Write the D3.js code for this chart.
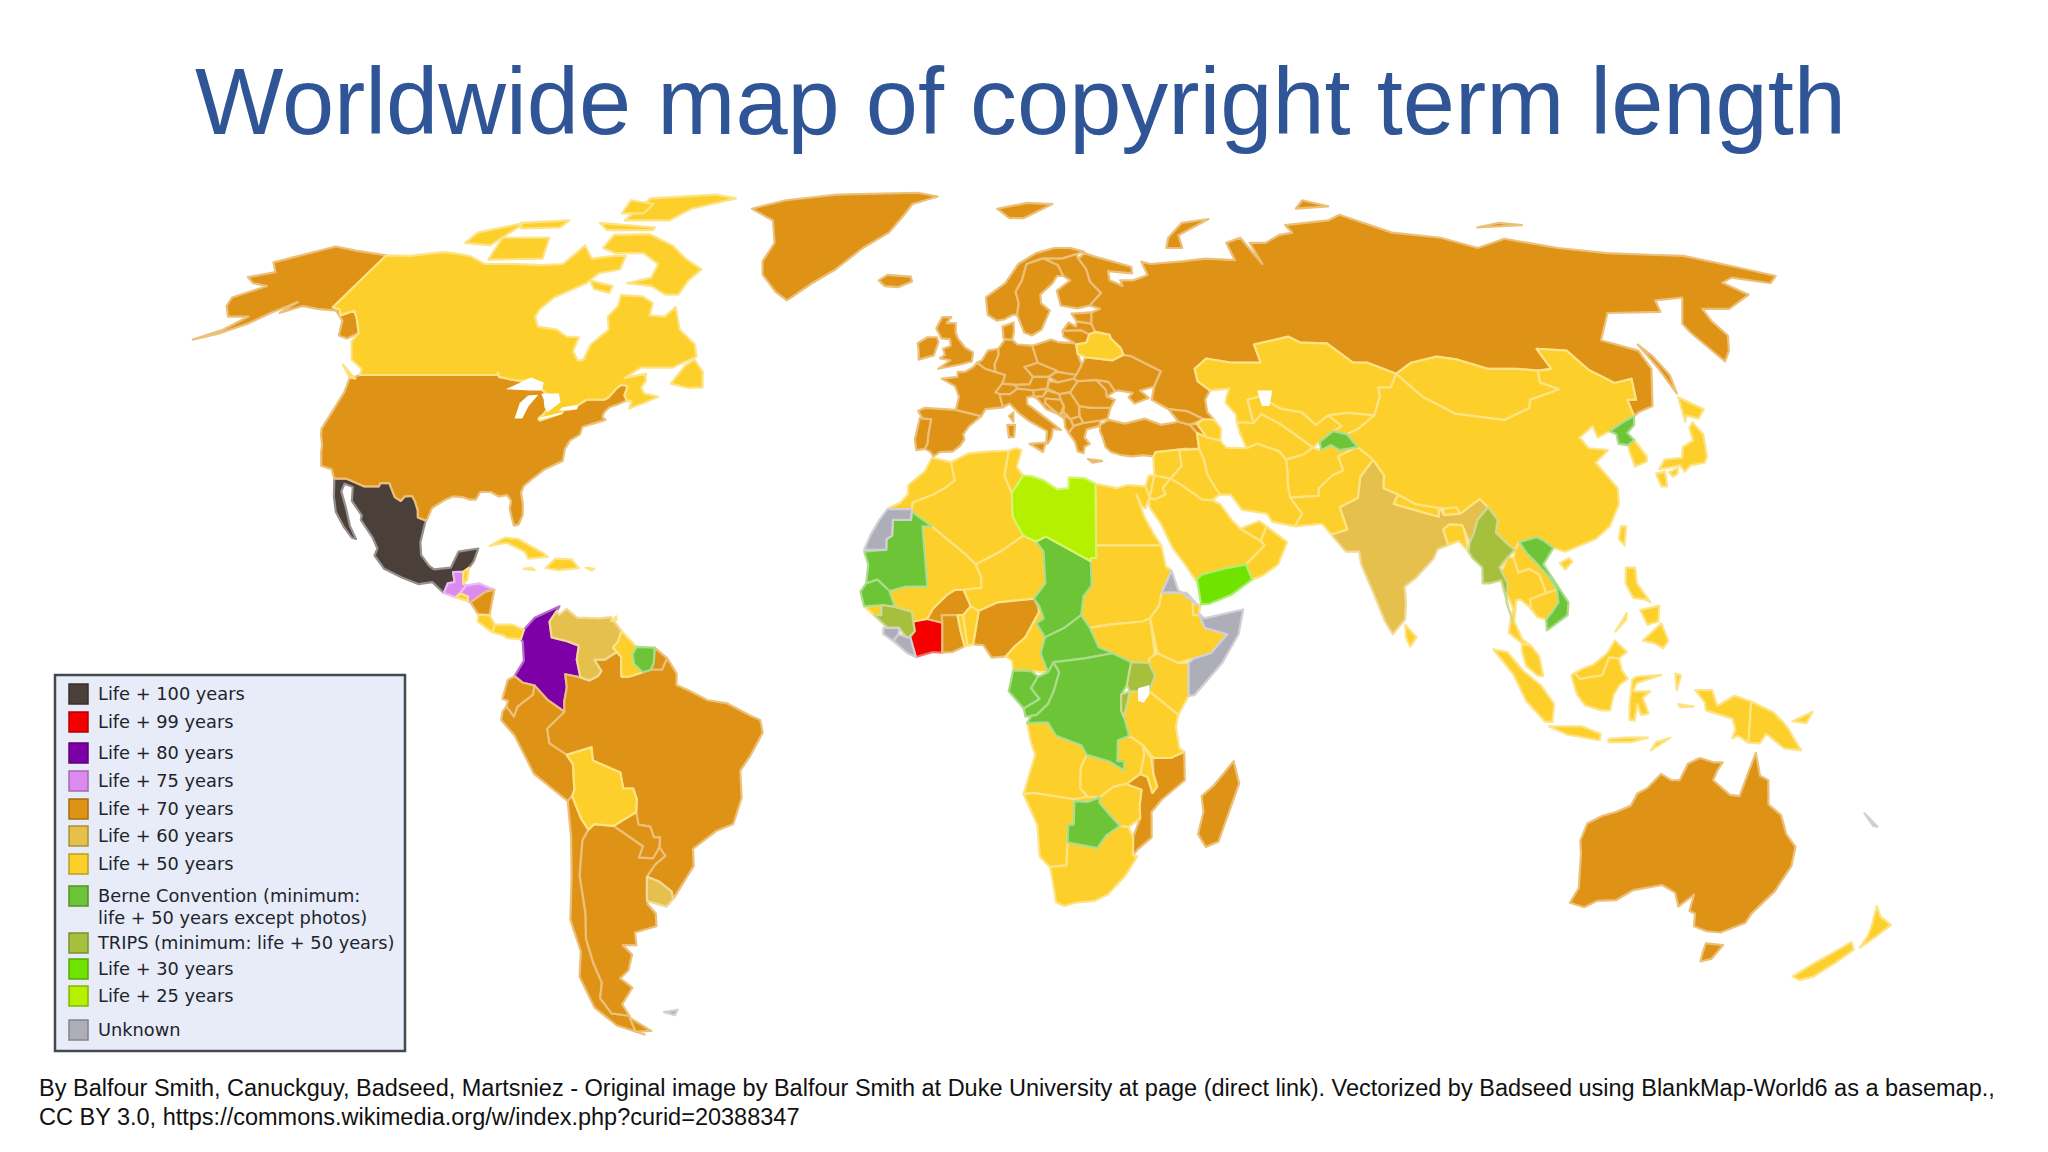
<!DOCTYPE html>
<html>
<head>
<meta charset="utf-8">
<script src="https://cdn.jsdelivr.net/npm/d3@7"></script>
<style>
  html, body { margin: 0; padding: 0; background: #fff; }
  svg { display: block; }
</style>
</head>
<body>
<div id="container"></div>
<script>
// legend
const legendLabels = [["Life + 100 years"], ["Life + 99 years"], ["Life + 80 years"], ["Life + 75 years"], ["Life + 70 years"], ["Life + 60 years"], ["Life + 50 years"],
  ["Berne Convention (minimum:", "life + 50 years except photos)"], ["TRIPS (minimum: life + 50 years)"], ["Life + 30 years"], ["Life + 25 years"], ["Unknown"]];
const legendColors = ["#4b3f3a", "#f40000", "#7d00a6", "#dc8aee", "#de9216", "#e6c04c", "#fdcf2b", "#6cc436", "#a6bf3c", "#70e400", "#b4f000", "#aeaeb8"];

const titleText = "Worldwide map of copyright term length";
const creditLines = ["By Balfour Smith, Canuckguy, Badseed, Martsniez - Original image by Balfour Smith at Duke University at page (direct link). Vectorized by Badseed using BlankMap-World6 as a basemap.,",
  "CC BY 3.0, https://commons.wikimedia.org/w/index.php?curid=20388347"];

// Robinson table
const tableLat = [0,5,10,15,20,25,30,35,40,45,50,55,60,65,70,75,80,85,90];
const tablePlen = [1,.9986,.9954,.99,.9822,.973,.96,.9427,.9216,.8962,.8679,.835,.7986,.7597,.7186,.6732,.6213,.5722,.5322];
const tablePdfe = [0,.062,.124,.186,.248,.31,.372,.434,.4958,.5571,.6176,.6769,.7346,.7903,.8435,.8936,.9394,.9761,1];

// outlines as lon,lat,lon,lat...  one entry per land mass
const life100 = [
  ["Mexico", [-117.1,32.5,-114.8,32.5,-111,31.3,-108.2,31.3,-108.2,31.8,-106.5,31.8,-104.5,29.6,-103.2,29,-102.7,29.7,-101.4,29.8,-100.5,28.9,-99.5,27.5,-99.1,26.4,-97.5,25.9,-97.7,22.5,-97.2,20.5,-95.5,18.8,-94.5,18.2,-91.5,18.5,-90.5,21,-87,21.5,-87.5,19.5,-88.2,18.5,-89.1,17.9,-91,17.8,-90.5,16.2,-91.7,16,-92.2,14.5,-94.5,16.2,-97,15.9,-100,16.9,-103.5,18.3,-105.6,20.4,-105.3,21.5,-106.5,23.2,-109.4,26,-109.5,26.7,-112.2,29,-113,31.2,-114.8,31.7,-114.8,30.5,-112.8,27.8,-111,25,-109.5,23,-110.3,23.2,-112.2,25,-114.5,27.3,-115.8,29.7]]
];
const life99 = [
  ["Cote d'Ivoire", [-7.5,4.4,-8.5,7.5,-7.7,8.5,-8,10,-5.5,10.4,-2.8,9.8,-2.8,5.1,-4.5,5.2]]
];
const life80 = [
  ["Colombia", [-77.4,8.7,-75.6,10.6,-74.2,11.2,-71.3,12.4,-71.7,11.7,-72.9,10,-72.4,7.5,-70,7,-67.5,6.2,-67.8,4,-67.1,1.2,-69.8,1.7,-69.5,-0.4,-70,-2.6,-70,-4.2,-72.9,-2.4,-75.2,-0.1,-77.4,0.4,-78.8,1.4,-77.2,3.8,-77.5,6.8,-77.9,7.2]]
];
const life75 = [
  ["Guatemala", [-92.2,14.5,-91.7,16,-90.5,16.2,-91,17.8,-89.2,17.8,-88.9,15.9,-88.3,15.7,-89.2,14.6,-90,13.8]],
  ["Honduras", [-89.2,14.6,-88.3,15.7,-86,16,-83.2,15,-84.7,14.7,-87.3,13,-87.8,13.2,-87.8,13.9,-89.2,14.4]]
];
const life70 = [
  ["USA", [-124.7,48.4,-123,49,-95.2,49,-95.2,49.4,-94.6,48.7,-92,48.3,-89.6,48,-88.4,48.3,-84.9,46.9,-84.5,46.5,-83.5,46,-83.6,45.8,-82.5,45.3,-82.1,43.6,-82.5,42.6,-83.1,42.1,-82.7,41.7,-78.9,42.9,-79,43.3,-76.8,43.6,-76.3,44.2,-75,45,-71.5,45,-70.8,45.4,-70,46.7,-69.2,47.4,-68.3,47.3,-67.8,47.1,-67.8,45.7,-67,44.9,-68.5,44.3,-70,43.8,-70.7,43,-70.8,42.3,-70,41.8,-71.4,41.4,-74,40.7,-74,39.5,-75.5,38.5,-75.9,37.2,-75.5,35.3,-77,34.6,-78.5,33.9,-80,32.6,-81.3,31.3,-81.4,30.3,-80.5,28.5,-80,26.8,-80.3,25.3,-81.1,25.1,-81.8,26.2,-82.7,27.8,-82.8,29,-83.8,29.9,-85.3,29.7,-87,30.4,-89,30.4,-89.4,29.2,-90.5,29.2,-92,29.6,-93.8,29.7,-95,29.2,-97,27.9,-97.3,26,-97.5,25.9,-99.1,26.4,-99.5,27.5,-100.5,28.9,-101.4,29.8,-102.7,29.7,-103.2,29,-104.5,29.6,-106.5,31.8,-108.2,31.8,-108.2,31.3,-111,31.3,-114.8,32.5,-117.1,32.5,-118.4,34,-120.6,34.5,-121.9,36.6,-122.5,37.8,-123.8,39.5,-124.3,40.4,-124.1,43,-124,46.3]],
  ["Alaska", [-141,69.6,-141,60.3,-139,59.9,-137.5,58.9,-135.5,59.7,-133.5,58.5,-130,55.9,-131.5,55,-133.8,55.5,-136,58,-139.5,59.7,-144,60,-148,60.5,-151.5,59.3,-150,61.2,-153.5,59.3,-156,57.5,-160,55.8,-164,54.8,-160,56.4,-157.5,58.7,-162,58.7,-165,60.5,-166,62,-161,64,-165,64.5,-168,65.6,-163,66.5,-166.5,68.3,-156.5,71.3,-150,70.5]],
  ["Greenland", [-58,79,-50,81,-36,82.5,-12,83,-6,82,-13,80,-15,77.5,-18,74,-24,71,-30,67,-35,64.5,-40,61.5,-43,63,-47,66,-48,68.5,-46.5,72,-50,76.5]],
  ["Iceland", [-19.5,65,-17.5,66,-12,65.7,-11.7,64.8,-15,63.8,-18,64]],
  ["Svalbard", [11,79,20,80.3,27,80,18,77,14,77]],
  ["UK", [-5.5,50,-1,50.7,1.4,51.2,1.7,52.7,0,53.5,-1.5,55,-2,56,-2,57.6,-4,57.6,-3,58.6,-5,58.6,-6.2,56.7,-5,55,-3.2,54.9,-3,53.8,-4.6,53.3,-4.2,52.3,-5.2,51.7,-3,51.4]],
  ["Ireland", [-10,54.2,-8,55.2,-6,55.2,-5.6,54.4,-6.2,53,-6.5,52.2,-9.6,51.5,-9.7,53]],
  ["Spain", [-9.2,43.2,-8,43.7,-1.8,43.4,3.2,42.4,0.8,40.8,-0.3,39.5,0,38.7,-0.7,37.7,-2,36.8,-4.5,36.7,-5.6,36,-6.4,36.8,-7.4,37.2,-7,38,-7,39.7,-6.6,41.9,-8.2,42]],
  ["Portugal", [-8.8,42.1,-8.2,42,-6.6,41.9,-7,39.7,-7,38,-7.4,37.2,-9,37,-9.5,38.7]],
  ["France", [-1.8,43.4,3.2,42.4,4,43.5,7.5,43.8,7,45.5,7,45.9,6.1,46.2,7.5,47.6,8.2,49,6.2,49.5,4.2,50,2.5,51,1.6,50.2,0,49.5,-1.5,49.5,-1.5,48.7,-4.7,48.4,-2,47.2,-1.2,45.5]],
  ["Benelux", [2.5,51,4.2,50,6.2,49.5,6.1,50.7,7,52.3,7,53.3,4.8,53,3.5,51.4]],
  ["Germany", [7,53.3,7,52.3,6.1,50.7,6.2,49.5,8.2,49,7.5,47.6,10,47.4,13,47.5,13.8,48.7,12.2,50.3,15,51,14.2,53.8,11,54,10,54.8,8.6,54.9]],
  ["Denmark", [8.2,55,8.1,57,10.6,57.7,10.5,56,10,54.8,8.6,54.9]],
  ["Poland", [14.2,53.8,15,51,18.8,49.5,22.6,49,24,50.6,23.5,52.5,23.4,54.2,19.7,54.4,18.3,54.8]],
  ["Czechia", [12.2,50.3,15,51,18.8,49.7,17,48.7,13.8,48.7]],
  ["Slovakia", [17,48.7,18.8,49.5,22.6,49,22,48.4,18.8,47.8]],
  ["Austria", [10,47.4,13,47.5,13.8,48.7,17,48.7,16.5,46.8,13.7,46.5,10.5,46.8]],
  ["Switzerland", [6.1,46.2,7.5,47.6,10,47.4,10.5,46.8,9,45.9,7,45.9]],
  ["Italy", [7,45.5,7,45.9,9,45.9,10.5,46.8,13.7,46.5,13.7,45.6,12.3,45.4,12.3,44.3,13.6,43.5,16,41.9,18.5,40.2,17,40.4,16.7,39,16,38,15.7,38.2,15.8,40,12.3,41.7,10.5,42.9,8.8,44.4,7.5,43.8]],
  ["Sicily", [12.5,38,15.6,38.2,15.1,36.7]],
  ["Sardinia", [8.2,41,9.7,41,9.5,39.1,8.5,39]],
  ["Corsica", [8.6,42.4,9.5,43,9.4,41.5]],
  ["Hungary", [16.5,46.8,17,48,18.8,47.8,22,48.4,22.8,48,21,46.2,18.8,45.9]],
  ["Slovenia", [13.7,45.5,13.7,46.5,16.5,46.8,15.5,45.5]],
  ["Croatia", [13.7,45.5,15.5,45.5,16.5,46.5,18.8,45.9,19,45,16,45.2,15.8,44.5,18,42.8,16,43.5,14.5,45]],
  ["Bosnia", [16,45.2,19,45,19.5,44,18.5,42.5,15.8,44.5]],
  ["Serbia", [18.8,45.9,21,46.2,22.5,44.5,22.4,42.4,20.6,41.9,19.3,43,19.5,44,19,45]],
  ["Montenegro", [18.5,42.5,19.3,43,20,42.6,19.3,42]],
  ["Albania", [19.3,42.5,20.6,41.9,21,40.8,20,39.7,19.4,40.6]],
  ["Macedonia", [20.6,41.9,22.4,42.4,23,41.3,21,40.8]],
  ["Greece", [20,39.7,21,40.8,23,41.3,26.3,41.7,26,40.8,23.5,40.3,23,39,24,38,23,37.5,22.8,36.5,21.7,36.8,21.2,38.3]],
  ["Crete", [23.6,35.6,26.3,35.3,24.5,35]],
  ["Bulgaria", [22.4,42.4,22.5,44,25,43.7,28.6,43.7,27.8,42,26.3,41.7,23,41.3]],
  ["Romania", [22.8,48,26.6,48.2,28.2,46.6,28.2,45.5,29.7,45,28.6,43.7,25,43.7,22.5,44,21,46.2]],
  ["Moldova", [26.6,48.2,29,47.9,30,46.4,28.2,45.5,28.2,46.6]],
  ["Ukraine", [22.6,49,24,50.6,25,51.9,30.5,51.4,33,52.3,34.5,52.1,40,49.6,38,47.1,35,46.5,36.5,45.3,33.5,44.4,32.5,45.4,33.5,46.1,30.7,46.5,30,46.4,29,47.9,26.6,48.2,22.8,48,22,48.4]],
  ["Lithuania", [21,55.3,22.8,54.4,23.5,54,25.7,54.3,26.6,55.7,25,56.4,21,56.3]],
  ["Latvia", [21,56.3,25,56.4,26.6,55.7,28,56.1,27.5,57.5,24.4,57.9,24,57,22.6,57.7]],
  ["Estonia", [24.4,57.9,27.5,57.5,28,59.4,23.5,59.2]],
  ["Norway", [5,59,7,58,8.5,58.2,10.6,59,11.5,59,12.2,61,12,63,14,65,16,68,20,69,25,69,28.8,69.8,31,70.3,28,71,24,71,19,70,14,68,10,64.5,5,62]],
  ["Sweden", [11.5,59,12.7,56,14.3,55.5,16.5,56.5,18.8,59.7,17.2,61,17.5,62.5,21,64.5,22.5,65.8,24,65.8,23.5,67.8,20.5,69,16,68,14,65,12,63,12.2,61]],
  ["Finland", [21.5,60.6,25,60.1,28,60.6,31.5,62.8,29.8,64.8,30,67,29,69,28.8,69.8,25,69,20.5,69,23.5,67.8,24,65.8,25.3,65,21.5,63.2]],
  ["Russia", [28,59.4,30,60,28,60.6,31.5,62.8,29.8,64.8,30,67,29,69,31,70,33,69.4,41,67.5,40.5,66.3,35,66.7,34.5,65,37,64,37,65,40,65,44,66,44,68.4,46,68,54,68.5,60,69,67,68.7,68,72,72.5,73,73,68,74,72,78,72,83,73.5,87,74,87,75.5,100,76.5,105,77.7,113,74,124,73,130,71,140,72.8,150,71,160,70,170,69.7,178,69.5,186,67.5,192,65.8,188,64.5,181,65.5,177,64.6,179,62.5,170,60,164,60,163,58,163,55.5,160,53,157,51.2,155.7,56,156,57.5,163,62,156,61.5,154,59.5,142,59.3,135,54.7,141,53,140.5,50,135.5,44,132,43,130.7,42.4,130.7,44,131.3,45,133,45,135,48.4,131,47.7,127.5,49.8,126,53,120,53.3,120,50,117,49.7,113,50,107,50,102,51.5,98,52,92,51,87.8,49.2,83,51,80,51,76.5,54.2,71,54.3,69,55.3,61,54,61,51,55,51,50,51.7,47,50,47,48,49,46.5,47.6,45,47.5,43,48.5,41.8,46.5,41.9,43.5,43.2,40,43.5,37,45,38,47.1,40,49.6,34.5,52.1,33,52.3,32.7,53.4,31,55,30.9,55.6,28,56.1,27.5,57.5]],
  ["Novaya Zemlya", [52,71,56,71,57,73.5,68,76.8,60,76,54,73]],
  ["Sakhalin", [142,54,143,52,143.3,49,142,46,142,50]],
  ["Severnaya Zemlya", [95,79,105,79.5,100,81]],
  ["New Siberian", [137,75,150,75.5,145,76]],
  ["Turkey", [26,40,26.2,41,28,41.8,31,41.2,35,42,38,41,41.5,41.5,43.6,41,44.7,39.7,44.8,37.2,42.3,37.2,36.5,36.7,36,36,34,36.2,32,36,30,36.2,28,36.7,27,37.5,26.5,39]],
  ["Georgia", [40,43.5,43.5,43.2,46.5,41.9,43.6,41,41.5,41.5]],
  ["Armenia", [43.6,41,45,41.2,46.5,39,44.7,39.7]],
  ["Nicaragua", [-87.3,13,-84.7,14.7,-83.2,15,-83.7,11,-85.7,11.1]],
  ["French Guiana", [-54,5.9,-51.7,4.2,-52.6,2.4,-54.6,2.4,-54.1,3.5]],
  ["Brazil", [-51.7,4.2,-50,1.8,-50,0,-48,-0.8,-44.5,-2.4,-41,-2.9,-37,-4.8,-35.2,-5.5,-34.8,-7.5,-37,-11,-39,-13.5,-39,-17.8,-40.8,-21.9,-44,-23,-48.5,-25.8,-48.7,-28.5,-52,-32.2,-53.4,-33.7,-53.5,-32.5,-55.6,-30.9,-57.6,-30.2,-55.8,-28.3,-53.7,-26.9,-54.6,-25.6,-54.3,-24,-55.4,-24,-55.9,-22.3,-58,-22,-58.2,-20,-57.9,-18,-58.4,-16.3,-60.2,-16.3,-60.5,-13.8,-65.3,-11.9,-65.4,-9.8,-69.9,-11,-72.9,-9.2,-73.2,-6.9,-70,-4.2,-70,-2.6,-69.5,-0.4,-69.8,1.7,-67.1,1.2,-65.5,0.7,-64,1.4,-63.4,2.2,-64.7,4,-62.8,4,-60.7,5.2,-59.9,4.4,-59.9,2.4,-59.8,1.3,-58.5,1.3,-56,2,-54.6,2.4,-52.6,2.4]],
  ["Ecuador", [-78.8,1.4,-77.4,0.4,-75.2,-0.1,-75.5,-1.5,-78.3,-3.4,-79,-5,-80.3,-3.4,-80,-2.5,-81,-2.2,-80,0.8]],
  ["Peru", [-75.2,-0.1,-72.9,-2.4,-70,-4.2,-73.2,-6.9,-72.9,-9.2,-69.9,-11,-68.9,-12.5,-69,-16.5,-69.5,-17.5,-70.4,-18.3,-76,-14,-79,-8,-81.3,-5.5,-81,-4.2,-80.3,-3.4,-79,-5,-78.3,-3.4,-75.5,-1.5]],
  ["Paraguay", [-58.2,-20,-58,-22,-55.9,-22.3,-55.4,-24,-54.3,-24,-54.6,-25.6,-56,-27.3,-58.6,-27.2,-57.6,-25.4,-62.6,-22.2]],
  ["Chile", [-69.5,-17.5,-68.3,-21,-67.2,-22.8,-68.5,-24.5,-70,-30,-70.5,-36,-71.7,-40,-71.8,-44,-71.5,-47,-73,-49.5,-72,-52,-68.5,-52.4,-68.6,-55,-67,-55.5,-72,-54,-75,-51,-75.5,-46,-73.5,-42,-73.7,-37,-71.5,-30,-70.5,-24,-70.4,-18.3]],
  ["Argentina", [-66,-21.9,-62.6,-22.2,-57.6,-25.4,-58.6,-27.2,-56,-27.3,-54.6,-25.6,-53.7,-26.9,-55.8,-28.3,-57.6,-30.2,-58.2,-33,-58.4,-34.5,-57.2,-36,-57.6,-38,-62,-39,-62.3,-41,-65,-41,-63.7,-42.5,-65.3,-45,-67.5,-46.3,-65.7,-47.8,-69,-50.5,-68.5,-52.4,-72,-52,-73,-49.5,-71.5,-47,-71.8,-44,-71.7,-40,-70.5,-36,-70,-30,-68.5,-24.5,-67.2,-22.8]],
  ["Tierra del Fuego", [-68.6,-52.7,-65.2,-54.9,-68.6,-55]],
  ["Burkina Faso", [-5.5,10.4,-4.5,12,-2,14.2,-0.5,15,1,15,2.3,12.4,0.9,11,-0.1,11,-2.9,11,-2.8,9.8]],
  ["Ghana", [-2.8,5.1,-2.8,9.8,-2.9,11,-0.1,11,0.6,8,1.2,6.1,-1,5.2]],
  ["Nigeria", [2.7,6.4,3.7,11.7,7,13,10,13.3,13.6,13.6,14.2,12.5,14.5,11.5,12,7.5,10,6,8.5,4.5,6,4.3,4.5,6.3]],
  ["Mozambique", [40.4,-10.5,40.7,-15,36.8,-18,35,-20,35.3,-24,32.9,-25.9,32.1,-26.8,31.9,-24,33,-21,32.8,-19,33,-16.5,30.3,-16,30.2,-15.6,32.7,-14,34,-14.5,35,-17,35.8,-16,35,-14,34.9,-11.5,38,-11.5]],
  ["Madagascar", [49.3,-12,50.5,-15.5,47.5,-24.7,45.3,-25.5,43.7,-23.5,44.4,-20,43.9,-17.5,46,-15.8]],
  ["Australia", [114.2,-21.8,116.7,-20.6,119,-20,121.5,-19,122.3,-17.1,124,-16.2,126,-14,128,-15,129.5,-15,130.6,-12.4,132.6,-11.5,135.3,-12.2,136.8,-12.2,136,-13.5,135.5,-15,139,-17.3,140.8,-17.5,141.7,-13.5,142.5,-10.7,143.8,-14.3,145.4,-15,146.3,-18.8,149,-20.5,150.8,-23.5,153.1,-25.5,153.6,-28.5,152.5,-32.5,150.2,-36,150,-37.5,146.3,-39,143.5,-38.8,140.6,-38,139.5,-36,138.2,-35.6,137.7,-33,135.7,-34.9,134,-32.7,131,-31.5,126,-32.3,123.5,-33.9,120,-34,118,-35,115,-34.3,115.7,-32,114.2,-26.5,113.5,-24.5]],
  ["Tasmania", [144.7,-40.7,148.3,-41,147.8,-43.2,146,-43.6,145.3,-42.2]]
];
const life60 = [
  ["Venezuela", [-71.7,11.7,-71.3,11,-70,12,-68,10.6,-64,10.5,-62,10.7,-60,8.5,-60.5,6.9,-61.4,5.9,-60.7,5.2,-62.8,4,-64.7,4,-63.4,2.2,-64,1.4,-65.5,0.7,-67.1,1.2,-67.8,4,-67.5,6.2,-70,7,-72.4,7.5,-72.9,10]],
  ["Uruguay", [-57.6,-30.2,-55.6,-30.9,-53.5,-32.5,-53.4,-33.7,-54.9,-34.9,-58.4,-34,-58.2,-33]],
  ["India", [77.5,35.5,79,33,78.5,31,81,30,80,28.5,84,27.5,88,26.5,88.2,27.9,89,26.8,92,27,96,29.3,97.3,28,95,26,94,23.9,93,22.5,92.3,24.5,92,25.2,89.8,25.3,88.5,24.5,89,22,87,21.4,86,19.9,82.2,16.7,80.2,15.5,80.2,13,79.8,10.3,77.5,8,76.2,10,74.5,14.5,72.8,19,72.7,21,70.3,21,69,22.5,68,23.7,71,24.5,70,28,73.5,29.5,74.5,32.8]]
];
const life50 = [
  ["Canada", [-141,69.6,-135,69.5,-128,70.2,-125,70,-120,69.4,-115,68,-108,68,-101,67.8,-96,68,-94,71.5,-90,69,-85,69.5,-82,69.5,-81.5,67,-86,66.3,-87.5,64.5,-93,62,-94.5,60,-94.5,58.7,-92.5,57,-88,56.5,-85,55.3,-82.3,55.2,-82,52.9,-80,51.3,-79,51.5,-79,54,-76.8,56.5,-78.5,58.7,-77.5,60.5,-78,62.4,-73,62.2,-70,61,-69.5,58.9,-66,58.7,-64.5,60.3,-61.5,56.5,-57,54,-55.8,52,-60,50.2,-66.5,50.2,-69,48.5,-65,49.2,-64.5,48,-65,47,-64,46,-61,45.5,-63.5,44.5,-66,43.6,-66,44.7,-67,44.9,-67.8,45.7,-67.8,47.1,-68.3,47.3,-69.2,47.4,-70,46.7,-70.8,45.4,-71.5,45,-75,45,-76.3,44.2,-76.8,43.6,-79,43.3,-78.9,42.9,-82.7,41.7,-83.1,42.1,-82.5,42.6,-82.1,43.6,-82.5,45.3,-83.6,45.8,-83.5,46,-84.5,46.5,-84.9,46.9,-88.4,48.3,-89.6,48,-92,48.3,-94.6,48.7,-95.2,49.4,-95.2,49,-123,49,-123.5,50,-127,51.5,-130,54.5,-130,55.9,-133.5,58.5,-135.5,59.7,-137.5,58.9,-139,59.9,-141,60.3]],
  ["Baffin", [-80,73.7,-72,71.5,-67,69,-62,67,-64,65,-65,62.5,-68,62.5,-72,64,-78,64.5,-73,65.5,-73,68,-78,70,-85,70,-89,71,-89,73.5]],
  ["Victoria", [-117,73,-105,73,-102,69,-115,68.8]],
  ["Ellesmere", [-90,76.5,-78,76.5,-75,79,-65,81.5,-72,82.5,-90,81.5]],
  ["Banks", [-125,72,-118,71.5,-116,76,-125,74]],
  ["Devon", [-96,76,-80,75,-80,74.5,-92,74.5]],
  ["Axel Heiberg", [-95,81,-87,80,-87,78,-93,78]],
  ["Melville", [-117,76,-105,76.5,-105,75,-115,74.8]],
  ["Southampton", [-87,65,-81,64,-81,62.8,-85,63.5]],
  ["Newfoundland", [-59.3,47.6,-55.5,46.9,-52.7,47,-53.5,49.5,-56,51.5,-57.5,50.5]],
  ["Vancouver", [-128,50.7,-123.5,48.4,-125,48.7]],
  ["Cuba", [-85,21.9,-82.5,23.2,-80,23,-75,20.7,-74.2,20.2,-77.7,19.9,-78.5,21,-82,22.4]],
  ["Hispaniola", [-74.4,18.4,-72,18.1,-68.4,18.4,-69.9,19.8,-72.8,19.9]],
  ["Jamaica", [-78.3,18.3,-76.3,18.1,-77,18.5]],
  ["Puerto Rico", [-67.2,18.5,-65.6,18.3,-66,18]],
  ["Trinidad", [-61.9,10.1,-61,10.2,-61,10.8]],
  ["Belize", [-89.2,17.8,-88.2,18.5,-88.3,16.5,-88.9,15.9]],
  ["El Salvador", [-90,13.8,-89.2,14.4,-87.8,13.9,-87.8,13.2]],
  ["Costa Rica", [-85.7,11.1,-83.7,11,-82.6,9.5,-83,8.3,-85.7,10]],
  ["Panama", [-83,8.3,-82.6,9.5,-79.5,9.5,-77.4,8.7,-77.9,7.2,-80.3,7.4,-81,7.8]],
  ["Guyana", [-60,8.5,-57.2,6,-57.9,4.8,-57.6,3.3,-56,2,-58.5,1.3,-59.8,1.3,-59.9,2.4,-59.9,4.4,-60.7,5.2,-61.4,5.9,-60.5,6.9]],
  ["Bolivia", [-69.9,-11,-65.4,-9.8,-65.3,-11.9,-60.5,-13.8,-60.2,-16.3,-58.4,-16.3,-57.9,-18,-58.2,-20,-62.6,-22.2,-66,-21.9,-67.2,-22.8,-68.3,-21,-69.5,-17.5,-69,-16.5,-68.9,-12.5]],
  ["Belarus", [23.5,52.5,25,51.9,30.5,51.4,33,52.3,32.7,53.4,31,55,30.9,55.6,28,56.1,26.6,55.7,25.7,54.3,23.5,54]],
  ["Azerbaijan", [46.5,41.9,48.5,41.8,49.5,40.4,49,38.5,46.5,39,45,41.2]],
  ["Kazakhstan", [47,50,50,51.7,55,51,61,51,61,54,69,55.3,71,54.3,76.5,54.2,80,51,83,51,87.8,49.2,85.5,47,83,47,82.5,45.5,80,42.5,75,42.9,71,42.5,68,41,66,43,62,43.6,58.5,45.5,56,45,56,41.3,52.8,41.4,53,42.7,51.5,44.5,52,45.5,53,46.8,49,46.5,47,48]],
  ["Uzbekistan", [56,45,58.5,45.5,62,43.6,66,43,68,41,71,42.5,73,40.8,71,40,68,38.3,66.5,37.4,64.5,38.8,61,41.2,58,42.7,56,41.3]],
  ["Turkmenistan", [52.8,41.4,56,41.3,58,42.7,61,41.2,64.5,38.8,66.5,37.4,64.5,36.3,61,35.5,60,36.8,56,38,53.9,37.3,53,39.5]],
  ["Kyrgyzstan", [71,42.5,75,42.9,80,42.5,76,40.4,73.5,39.5,71,40,73,40.8]],
  ["Afghanistan", [61,35.5,64.5,36.3,66.5,37.4,68,37,70,37.8,71.5,37,75,37.5,71,36,71.5,33.8,69.3,33,66.5,31,66.3,29.8,61,29.5,60.8,31.5,61,34]],
  ["Iran", [44.7,39.7,46.5,39,49,38.5,50,37.4,53.9,37.3,56,38,60,36.8,61,35.5,61,34,60.8,31.5,61,29.5,63,27,61.5,25,57.5,25.7,56.5,27,52,27.6,50,30,48,30,46,33,45.5,35.5,44.8,37.2]],
  ["Iraq", [44.8,37.2,45.5,35.5,46,33,48,30,46.5,29.1,44.7,29.2,41,31.5,39,32.5,41.2,34.5,41,37]],
  ["Syria", [36,36,36.5,36.7,42.3,37.2,41,37,41.2,34.5,39,32.5,36,33,36,35]],
  ["Jordan", [35,29.5,36,33,39,32.5,37.5,31,38,30,36,29.2]],
  ["Israel", [34.3,31.3,35,33,36,33,35,29.5]],
  ["Saudi Arabia", [35,29.5,36,29.2,38,30,37.5,31,39,32.5,41,31.5,44.7,29.2,46.5,29.1,48,28.5,50,26,51.5,24.6,55,22.7,55.7,22,52,19,49,18.5,44,17.4,43,16.7,42.8,16.4,41,19,39,21.5,37,25.5,35,28]],
  ["Oman", [55,22.7,56.3,25,59.8,22.5,57.8,19,55,17.3,52.9,16.6,52,19,55.7,22]],
  ["UAE", [51.5,24.6,55,25.8,56.3,25,55,22.7]],
  ["Pakistan", [61,29.5,66.3,29.8,66.5,31,69.3,33,71.5,33.8,71,36,75,37.5,77.5,35.5,74.5,32.8,73.5,29.5,70,28,71,24.5,68,23.7,66.5,25.4,61.5,25,63,27]],
  ["Nepal", [80,28.5,81,30,84,28.5,88.2,27.9,88,26.5,84,27.5]],
  ["Bhutan", [89,26.8,92,27,91.5,28,89,27.8]],
  ["Bangladesh", [88.5,24.5,89.8,25.3,92,25.2,92.3,24.5,92.5,21,91,22.7,89,22]],
  ["Sri Lanka", [79.8,9.5,81.7,7.5,80.5,6,79.8,7.5]],
  ["China", [73.5,39.5,76,40.4,80,42.5,82.5,45.5,83,47,85.5,47,87.8,49.2,91,45.5,96,42.8,105,41.8,111,43.7,112,45,119,46.7,116,47.8,117,49.7,120,50,120,53.3,126,53,127.5,49.8,131,47.7,135,48.4,133,45,131.3,45,130.7,42.4,128,41.5,124.3,40,121.5,39,121.5,40.8,118,39,119,37.3,122.5,37,119.3,35,122,31,121.5,28.5,119,25,116,23,113,22,110,21,108,21.6,106.5,22.7,105.3,23.3,102,22.5,101,21.3,100,22,98,24,98.7,26,97.3,28,96,29.3,92,27,91.5,28,89,27.8,88.2,27.9,84,28.5,81,30,78.5,31,79,33,77.5,35.5,75,37.5]],
  ["Hainan", [108.7,19.2,110.5,20,111,19.4,109.5,18.2]],
  ["Taiwan", [120.2,23,121,25,122,25,121,22]],
  ["Mongolia", [87.8,49.2,92,51,98,52,102,51.5,107,50,113,50,117,49.7,116,47.8,119,46.7,112,45,111,43.7,105,41.8,96,42.8,91,45.5]],
  ["South Korea", [126.7,37.8,128.3,38.6,129.4,36,129,35.2,126.5,34.4,126.5,36.7]],
  ["Honshu", [130.9,34,132.5,35.5,136,35.8,137,37.5,139.5,38.5,140,40.5,141.3,41.4,142,39.5,140.8,36,139.8,35,137,34.6,135.5,33.6,135,34.6,132.5,34.2]],
  ["Hokkaido", [140,41.5,141.7,45.4,145.2,43.5,143,42,141,42.5]],
  ["Kyushu", [130,33.3,131.8,33.6,131.3,31.3,130.2,31.3]],
  ["Shikoku", [132.5,33.5,134.5,34.2,134,33.3,133,32.8]],
  ["Thailand", [98,18,99.5,20.2,100.5,20,101,17.7,103,18.3,104.7,17.4,105.5,14.5,102.5,13.5,102.5,12,100.9,13.4,100,13.4,99.3,10,100.5,7.2,102,6.2,100.5,6.5,98.2,8.2,98.7,10.5,99.3,12,98.2,15,97.7,16.5]],
  ["Laos", [100.5,20,101,21.3,102,22.5,103,20.8,104.7,19,106.5,16.8,107.5,15,105.5,14.5,104.7,17.4,103,18.3,101,17.7]],
  ["Cambodia", [102.5,13.5,105.5,14.5,107.5,15,107.5,13,106.2,11.5,105,10.3,103.5,10.7,102.5,12]],
  ["Malaya", [100.5,6.5,102,6.2,103.4,4.5,104,1.4,103,1.5,101,3,100.3,5.5]],
  ["Sarawak Sabah", [109.6,1.9,111.3,2.7,113,3.2,115.5,5,117,7,119,5.2,117.5,4.2,115.8,4.3,114.5,1.5,112,1.2,110.5,0.9]],
  ["Kalimantan", [109,1.5,109.6,1.9,110.5,0.9,112,1.2,114.5,1.5,115.8,4.3,117.5,4.2,118,2.3,119,1,117.5,0,116.5,-1.5,116,-4,114.5,-4,111.5,-3.2,110,-1.5]],
  ["Sumatra", [95.3,5.6,97.7,5.2,100.5,2.2,103.5,0,106,-3,105.8,-5.8,104.5,-5.8,101,-2.5,98.7,1.7]],
  ["Java", [105.2,-6.5,108.5,-6.5,111,-6.5,114.5,-7.7,114.4,-8.7,108.5,-7.8]],
  ["Lesser Sunda", [116,-8.5,119,-8.3,123,-8.3,120,-9,116,-9]],
  ["Timor", [123.7,-10.3,127,-8.3,124.5,-9]],
  ["Sulawesi", [119.8,0.8,120.5,1.3,125,1.6,120.5,0.3,120,-1,123,-1,121.7,-2,122.8,-4.5,121.5,-4.7,120.8,-3,120.4,-5.6,119.5,-5.5,119.4,-3.2]],
  ["Halmahera", [127.5,1.8,128.5,1.5,127.7,-0.8]],
  ["Seram", [128,-3,130.8,-3.4,128.5,-3.5]],
  ["West Papua", [131,-0.8,134,-0.8,135,-3.3,138,-1.7,141,-2.6,141,-9.1,139,-8,138,-8.4,138.5,-7,137.8,-5.3,133,-4,132.8,-2.8]],
  ["Papua New Guinea", [141,-2.6,145,-4.3,147,-6,147.8,-6.8,150.5,-10.3,147.5,-10,144,-7.7,143,-9.2,141,-9.1]],
  ["New Britain", [148.5,-5.7,152,-4.2,151,-6]],
  ["Luzon", [120.5,18.5,122.2,18.5,122,16,124,13,123,13.5,121,13.7,120,16]],
  ["Mindanao", [122,7,125.5,9.7,126.5,7,125.5,5.8,124,6.6]],
  ["Visayas", [122,11.8,125.5,12.5,125,10,123,9.5]],
  ["Palawan", [117.2,8.4,119.5,11.3,119.3,10.3]],
  ["North Island", [173,-34.8,175,-36.5,178,-37.8,176.5,-39.8,175.2,-41.4,175,-39.5,174.5,-38]],
  ["South Island", [172.7,-40.5,174.3,-41.7,172.8,-43.7,170.7,-46,168.5,-46.6,166.5,-46,168.5,-44,171,-42]],
  ["Morocco", [-5.9,35.8,-2.2,35.1,-1.2,32.2,-3,31,-5,30,-8.7,28.7,-8.7,27.7,-13.2,27.7,-12.9,27.9,-11,28.7,-9.7,30,-9.8,31.5,-7,33.6]],
  ["Algeria", [-2.2,35.1,1,36.5,5,36.8,8.6,36.9,8,33,9.5,30.2,9.9,26.5,11.9,23.5,7.5,20.9,3.2,19,1.2,20.7,-4.8,25,-8.7,27.3,-8.7,28.7,-5,30,-3,31,-1.2,32.2]],
  ["Tunisia", [8.6,36.9,10,37.3,11,37,10.2,34.3,11.5,33,9.5,30.2,8,33]],
  ["Egypt", [25,31.7,29,31,31,31.5,34.3,31.3,35,29.5,34.2,27.8,33.5,28.3,32.6,30,34,26.5,35.5,24,36.9,22,25,22]],
  ["Mali", [-12.3,14.8,-9.4,15.5,-5.5,15.5,-6.5,25,-4.8,25,1.2,20.7,3.2,19,4.2,16.9,4.2,15.3,1,15,-0.5,15,-2,14.2,-4.5,12,-5.5,10.4,-8,10,-8.2,11.5,-11.3,12.3]],
  ["Guinea-Bissau", [-16.7,12.3,-13.7,12.6,-13.7,11,-15,11]],
  ["Togo", [-0.1,11,0.9,11,1.7,6.2,1.2,6.1,0.6,8]],
  ["Benin", [0.9,11,2.3,12.4,3.7,11.7,2.7,6.4,1.7,6.2]],
  ["Niger", [4.2,15.3,4.2,16.9,3.2,19,7.5,20.9,11.9,23.5,14.2,22.6,15.5,21,15.7,16,13.6,13.6,10,13.3,7,13,3.7,11.7,2.3,12.4,1,15]],
  ["Sudan", [24,19.5,24,20,25,20,25,22,36.9,22,37.5,18.7,38.5,18,36.5,14.5,36,12.5,34.3,10.5,33,10,27,9.5,23.5,9,22,11,22.5,14,24,15.7]],
  ["South Sudan", [23.5,9,27,9.5,33,10,34.3,10.5,35,5,33.9,3.5,30.8,3.6,27.5,5,25,6]],
  ["Ethiopia", [36.5,14.5,38,14.6,41,14.5,43,12.5,43,11.3,44,9,48,8,45,5,42,4.2,39,3.5,35.5,5,34.3,10.5,36,12.5]],
  ["Djibouti", [42,12.8,43.4,12.6,43,11,42,11]],
  ["Kenya", [35.5,5,39,3.5,41,3.5,41,-1.7,39.2,-4.7,34,-1,34,4.2]],
  ["Tanzania", [30.5,-1,34,-1,39.2,-4.7,38.8,-6.5,39.5,-10,40.4,-10.5,38,-11.5,34.9,-11.5,33,-9.5,30.5,-8,29.5,-5,30.2,-2.5]],
  ["Cameroon", [8.5,4.5,10,6,12,7.5,14.5,11.5,14.5,12.5,15.3,10.5,14,9.7,15.5,7.5,14.7,5,16,2,13,2.2,9.8,2.3,9.6,3.8]],
  ["Angola", [12.3,-6,16,-5.9,17.5,-8,22,-9.5,23,-11,22,-13,22,-16.3,23.4,-17.6,21,-18,13.5,-17,11.8,-17.2,13.8,-11,13,-9]],
  ["Zambia", [22,-13,23,-11,27,-12,29.7,-13.4,29.7,-12,28.5,-12,28.5,-8.7,30.5,-8,33,-9.5,33.3,-11,32.7,-14,30.2,-15.6,28,-16,25.5,-17.7,23.4,-17.6,22,-16.3]],
  ["Malawi", [33,-9.5,34.5,-11.5,35,-14,35.8,-16,35,-17,34,-14.5,32.7,-14,33.3,-11]],
  ["Zimbabwe", [25.5,-17.7,28,-16,30.2,-15.6,33,-16.5,32.8,-19,33,-21,31,-22.4,29.4,-22.2,27,-20,25.5,-18.5]],
  ["Namibia", [11.8,-17.2,13.5,-17,21,-18,23.4,-17.6,25.5,-17.7,23.5,-18.4,21,-18.3,21,-22,20,-22,20,-28.4,17,-28.7,15,-27,14.4,-22]],
  ["South Africa", [17,-28.7,20,-28.4,20,-24.8,23,-25.3,25.5,-25.7,27,-23.7,29.4,-22.2,31,-22.4,31.9,-24,32.1,-26.8,32.9,-27,31,-30,28,-33,25.7,-34,22,-34.3,20,-34.8,18.4,-34.2,18,-32.5]]
];
const berne = [
  ["Suriname", [-57.2,6,-54,5.9,-54.1,3.5,-54.6,2.4,-56,2,-57.6,3.3,-57.9,4.8]],
  ["Tajikistan", [68,38.3,71,40,73.5,39.5,75,37.5,71.5,37,70,37.8,68,37]],
  ["North Korea", [124.3,40,128,41.5,130.7,42.4,129.7,41,127.5,39.7,128.3,38.6,126.7,37.8,125,38,125.3,39.5]],
  ["Vietnam", [102,22.5,105.3,23.3,106.5,22.7,108,21.6,105.7,19,107,16.8,109.3,13,108.9,11,106.5,9.5,105,8.6,105,10.3,106.2,11.5,107.5,13,107.5,15,106.5,16.8,104.7,19,103,20.8]],
  ["Mauritania", [-17,21,-13,21.3,-13,23,-12,23.5,-12,26,-8.7,26,-8.7,27.3,-4.8,25,-6.5,25,-5.5,15.5,-9.4,15.5,-12.3,14.8,-14.5,16.6,-16.5,16,-16.2,19]],
  ["Senegal", [-16.5,16,-14.5,16.6,-12.3,14.8,-11.3,12.3,-13.7,12.6,-16.8,12.4,-17.5,14.7]],
  ["Chad", [15.7,16,15.5,21,14.2,22.6,16,23.4,24,19.5,24,15.7,22.5,14,22,11,19,9,15.5,7.5,14,9.7,15.3,10.5,14.5,12.5,13.6,13.6]],
  ["Central African Rep.", [15.5,7.5,19,9,22,11,23.5,9,25,6,27.5,5,22.5,4.2,19,3.8,17,3.6,16,2,14.7,5]],
  ["Gabon", [9.8,2.3,13,2.2,14.2,1.3,13,-0.5,14.5,-2.2,11.7,-3.7,9,-1,9.5,1]],
  ["Congo", [14.2,1.3,16,2,17,3.6,18,2,17,-1,16,-3,14,-4.7,12,-5,11.7,-3.7,14.5,-2.2,13,-0.5]],
  ["DR Congo", [17,3.6,19,3.8,22.5,4.2,27.5,5,30.8,3.6,30,0,29,-1.5,29,-4,29.5,-5,30.5,-8,28.5,-8.7,28.5,-12,29.7,-12,29.7,-13.4,27,-12,23,-11,22,-9.5,17.5,-8,16,-5.9,12.3,-6,13,-4.9,14,-4.7,16,-3,17,-1,18,2]],
  ["Botswana", [21,-18.3,23.5,-18.4,25.5,-17.7,25.5,-18.5,27,-20,29.4,-22.2,27,-23.7,25.5,-25.7,23,-25.3,20,-24.8,20,-22,21,-22]]
];
const trips = [
  ["Myanmar", [92.5,21,93,22.5,94,23.9,95,26,97.3,28,98.7,26,98,24,100,22,101,21.3,99.5,20.2,97.7,18.5,98.8,16,98.2,13,99,10,98.5,12,97.7,16.5,95.5,16,94.3,16,94.6,18.5,93,20]],
  ["Guinea", [-15,11,-13.7,11,-13.7,12.6,-11.3,12.3,-8.2,11.5,-8,10,-7.7,8.5,-9,7.3,-10.5,9,-12.5,9]],
  ["Uganda", [30.8,3.6,33.9,3.5,35,1.5,34,-1,30.5,-1,30,0]],
  ["Rwanda Burundi", [29,-1.5,30.5,-1,30.2,-2.5,29.5,-5,29,-4]]
];
const life30 = [
  ["Yemen", [43,16.7,44,17.4,49,18.5,52,19,52.9,16.6,49,14.2,45,12.8,43.5,12.7]]
];
const life25 = [
  ["Libya", [11.5,33,13,32.9,15.2,32.3,18,30.8,20,31,20,32.7,23,32.6,25,31.7,25,20,24,20,24,19.5,16,23.4,14.2,22.6,11.9,23.5,9.9,26.5,9.5,30.2]]
];
const unknownTerm = [
  ["Western Sahara", [-13.2,27.7,-8.7,27.7,-8.7,26,-12,26,-12,23.5,-13,23,-13,21.3,-17,21.3,-16,23.5,-14.5,26]],
  ["Sierra Leone", [-13.3,9,-10.5,9,-10.6,8,-11.5,6.9,-13.3,8]],
  ["Liberia", [-11.5,6.9,-10.6,8,-9,7.5,-8.5,7.5,-7.5,4.4,-9,5]],
  ["Eritrea", [36.5,14.5,38.5,18,39.5,15,43,12.5,41,14.5,38,14.6]],
  ["Somalia", [43,11.3,44,10.5,51,11.9,50,8,47,3.5,42,-1.6,41,-1.7,41,3.5,42,4.2,45,5,48,8,44,9]],
  ["Falklands", [-61,-51.8,-58,-51.4,-59,-52.3]],
  ["New Caledonia", [164,-20.2,167,-22.3,166.2,-22.2]]
];
// water drawn over the land
const lakes = [
  ["Superior", [-92,46.7,-88,48.6,-85,47.8,-84.7,46.5,-87,46.5,-90,46.6]],
  ["Michigan", [-87.8,42,-86.3,42,-86,44,-85,45.8,-87,45.7,-88,44.5]],
  ["Huron", [-84.5,46,-81,46,-80,44.6,-81.8,43,-82.8,43.8,-83.5,45]],
  ["Erie", [-83.4,41.7,-79,42.7,-79,43,-82.7,42.2]],
  ["Ontario", [-79.8,43.3,-76.2,43.5,-76.3,44.2,-79.2,43.8]],
  ["Aral", [58.5,46.5,61.5,46.5,60,44,58.5,44]],
  ["Victoria", [32,-0.5,34,0,34,-1.5,33,-2.8,32,-2.5]]
];

const groups = [life100, life99, life80, life75, life70, life60, life50, berne, trips, life30, life25, unknownTerm];

const svg = d3.select("#container").append("svg")
  .attr("width", 2048)
  .attr("height", 1152);

svg.append("rect").attr("width", 2048).attr("height", 1152).attr("fill", "#fff");

// title
svg.append("text")
  .attr("x", 1020.5)
  .attr("y", 134)
  .attr("text-anchor", "middle")
  .style("font-family", "'Liberation Sans'")
  .style("font-size", "93.8px")
  .style("fill", "#2f5597")
  .text(titleText);

// Robinson style projection, built on linear scales over the table
const plen = d3.scaleLinear().domain(tableLat).range(tablePlen);
const pdfe = d3.scaleLinear().domain(tableLat).range(tablePdfe);
const x = d3.scaleLinear().domain([-180, 180]).range([958 - 1013.3, 958 + 1013.3]);
const y = d3.scaleLinear().domain([-1, 1]).range([685 + 512, 685 - 512]);
// the original map sits a little to the right in the mid northern latitudes
const drift = d3.scaleLinear().domain([25, 40, 60, 72]).range([0, 7, 7, 0]).clamp(true);

const robinson = d3.geoTransform({
  point(lon, lat) {
    const a = Math.abs(lat);
    this.stream.point(x(lon * plen(a)) + (lat > 0 ? drift(lat) : 0), y(Math.sign(lat) * pdfe(a)));
  }
});
const path = d3.geoPath(robinson);

const toPolygon = flat => {
  const ring = d3.range(0, flat.length, 2).map(i => [flat[i], flat[i + 1]]);
  ring.push(ring[0]);
  return {type: "Polygon", coordinates: [ring]};
};

const map = svg.append("g");
groups.forEach((lands, i) => {
  map.append("g")
    .attr("fill", legendColors[i])
    .attr("stroke", d3.interpolateRgb(legendColors[i], "#fff")(0.42))
    .attr("stroke-width", 2.2)
    .attr("stroke-linejoin", "round")
    .selectAll("path")
    .data(lands)
    .enter()
    .append("path")
    .attr("d", d => path(toPolygon(d[1])));
});

map.append("g")
  .attr("fill", "#fff")
  .selectAll("path")
  .data(lakes)
  .enter()
  .append("path")
  .attr("d", d => path(toPolygon(d[1])));

// legend
const legendRowY = [694, 722, 753, 781, 809, 836, 864, 896, 943, 969, 996, 1030];
const legend = svg.append("g");
legend.append("rect")
  .attr("x", 55).attr("y", 675)
  .attr("width", 350).attr("height", 376)
  .attr("fill", "#e8ecf8")
  .attr("stroke", "#44484f")
  .attr("stroke-width", 2.5);

legendLabels.forEach((lines, i) => {
  legend.append("rect")
    .attr("x", 69).attr("y", legendRowY[i] - 10)
    .attr("width", 19).attr("height", 20)
    .attr("fill", legendColors[i])
    .attr("stroke", d3.color(legendColors[i]).darker(0.8))
    .attr("stroke-width", 1.5);
  lines.forEach((line, j) => {
    legend.append("text")
      .attr("x", 98)
      .attr("y", legendRowY[i] + 6 + j * 22)
      .style("font-family", "'DejaVu Sans'")
      .style("font-size", "17.8px")
      .style("fill", "#20242c")
      .text(line);
  });
});

// credit line
creditLines.forEach((line, i) => {
  svg.append("text")
    .attr("x", 39)
    .attr("y", 1096 + i * 29)
    .style("font-family", "'Liberation Sans'")
    .style("font-size", "23.5px")
    .style("fill", "#111")
    .text(line);
});
</script>
</body>
</html>
